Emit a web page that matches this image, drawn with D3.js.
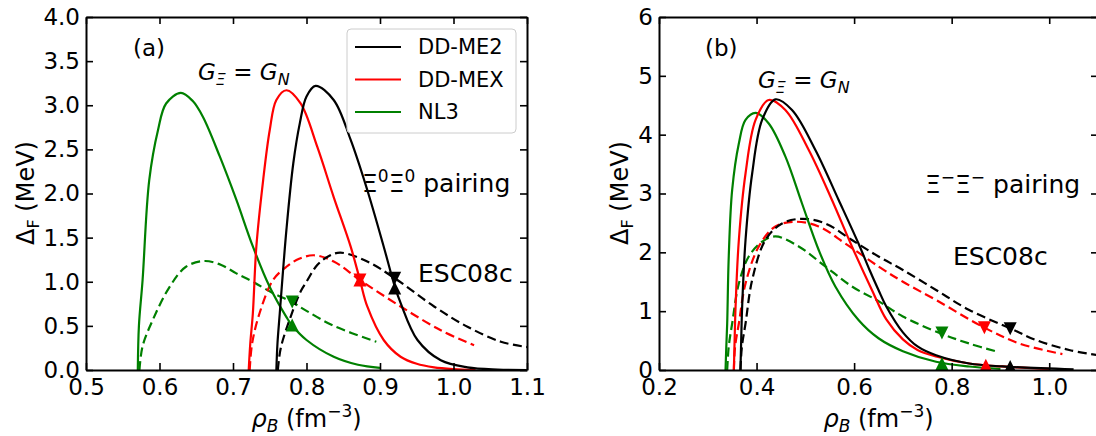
<!DOCTYPE html>
<html>
<head>
<meta charset="utf-8">
<script src="https://cdn.jsdelivr.net/npm/d3@7"></script>
<style>
body { margin: 0; background: #fff; }
svg { display: block; }
text { font-family: "DejaVu Sans", sans-serif; fill: #000; }
</style>
</head>
<body>
<div id="chart"></div>
<script>
// ---- data ----
// panel (a): Xi0 Xi0 pairing
const aME2Solid = [[0.759,0],[0.7605,0.3],[0.7636,0.64],[0.7727,1.59],[0.782,2.34],[0.791,2.8],[0.8,3.1],[0.8123,3.22],[0.837,3.06],[0.86,2.61],[0.8827,2.04],[0.905,1.4],[0.92,0.95],[0.928,0.76],[0.951,0.34],[0.9827,0.11],[1.019,0.03],[1.06,0.005],[1.1,0]];
const aMEXSolid = [[0.7214,0],[0.7235,0.3],[0.727,0.64],[0.7318,1.4],[0.741,2.15],[0.75,2.72],[0.759,3.06],[0.7727,3.17],[0.792,3.02],[0.8146,2.53],[0.837,1.96],[0.86,1.4],[0.8727,1.02],[0.8827,0.72],[0.905,0.34],[0.928,0.15],[0.95,0.07],[0.9736,0.03],[1.0,0.01],[1.03,0]];
const aNL3Solid = [[0.5705,0],[0.572,0.5],[0.577,1.02],[0.586,2.15],[0.598,2.72],[0.609,3.02],[0.629,3.14],[0.645,3.05],[0.659,2.87],[0.682,2.42],[0.7045,1.93],[0.727,1.4],[0.75,0.94],[0.7727,0.6],[0.78,0.51],[0.8,0.34],[0.837,0.15],[0.87,0.06],[0.9,0.025]];
const aME2Dash = [[0.761,0],[0.765,0.25],[0.777,0.57],[0.792,0.89],[0.8,1.0],[0.8146,1.19],[0.83,1.29],[0.846,1.33],[0.8827,1.23],[0.92,1.04],[0.9736,0.72],[1.019,0.49],[1.0645,0.32],[1.1,0.26]];
const aMEXDash = [[0.7227,0],[0.726,0.3],[0.736,0.64],[0.7545,1.02],[0.7727,1.17],[0.79,1.26],[0.81,1.3],[0.837,1.23],[0.8727,1.02],[0.928,0.72],[0.9827,0.45],[1.028,0.28]];
const aNL3Dash = [[0.5727,0],[0.577,0.27],[0.591,0.57],[0.6136,0.94],[0.636,1.17],[0.661,1.235],[0.684,1.19],[0.7045,1.095],[0.727,1.0],[0.7545,0.87],[0.78,0.77],[0.8,0.67],[0.837,0.5],[0.895,0.32]];
// markers: [rho, value] (up = on solid curve, down = on dashed curve)
const aUp = [[0.92,0.93,'black'],[0.8727,1.02,'red'],[0.7805,0.51,'green']];
const aDown = [[0.92,1.04,'black'],[0.8727,1.02,'red'],[0.7805,0.77,'green']];

// panel (b): Xi- Xi- pairing
const bME2Solid = [[0.367,0],[0.3685,0.5],[0.3705,1.08],[0.3774,2.21],[0.391,3.34],[0.4114,4.25],[0.4387,4.6],[0.4727,4.42],[0.5206,3.74],[0.5683,2.89],[0.609,2.15],[0.6317,1.7],[0.65,1.36],[0.666,1.08],[0.7,0.64],[0.73,0.4],[0.768,0.25],[0.836,0.11],[0.904,0.06],[1.05,0.01]];
const bMEXSolid = [[0.3535,0],[0.355,0.5],[0.357,1.08],[0.3637,2.21],[0.3774,3.34],[0.398,4.25],[0.425,4.59],[0.459,4.42],[0.507,3.74],[0.5546,2.89],[0.5955,2.1],[0.6365,1.36],[0.666,0.86],[0.7,0.52],[0.73,0.34],[0.768,0.23],[0.836,0.11],[0.904,0.06],[1.0,0.02]];
const bNL3Solid = [[0.3364,0],[0.338,0.4],[0.3398,0.79],[0.343,1.93],[0.35,3.06],[0.3637,3.85],[0.3774,4.25],[0.398,4.37],[0.425,4.19],[0.459,3.63],[0.4932,2.83],[0.5274,2.04],[0.5615,1.42],[0.609,0.85],[0.65,0.54],[0.7,0.32],[0.768,0.14],[0.836,0.06],[0.9,0.02]];
const bME2Dash = [[0.367,0],[0.37,0.4],[0.3774,0.79],[0.391,1.53],[0.4182,2.21],[0.4523,2.49],[0.4932,2.57],[0.541,2.49],[0.5955,2.21],[0.65,1.93],[0.7,1.7],[0.768,1.36],[0.836,1.02],[0.922,0.7],[0.973,0.51],[1.041,0.34],[1.1,0.25]];
const bMEXDash = [[0.3535,0],[0.356,0.4],[0.3637,0.79],[0.3774,1.47],[0.4046,2.1],[0.4387,2.44],[0.4796,2.52],[0.5274,2.44],[0.582,2.15],[0.65,1.76],[0.7,1.5],[0.768,1.19],[0.867,0.72],[0.939,0.45],[1.027,0.27]];
const bNL3Dash = [[0.3398,0],[0.343,0.4],[0.35,0.79],[0.3637,1.47],[0.384,1.93],[0.4114,2.18],[0.4387,2.27],[0.4864,2.1],[0.541,1.76],[0.5955,1.42],[0.65,1.17],[0.7,0.91],[0.778,0.62],[0.836,0.45],[0.894,0.31]];
const bUp = [[0.92,0.06,'black'],[0.87,0.08,'red'],[0.78,0.11,'green']];
const bDown = [[0.92,0.7,'black'],[0.867,0.72,'red'],[0.78,0.63,'green']];

// ticks
const aXTicks = [0.5,0.6,0.7,0.8,0.9,1.0,1.1];
const aYTicks = [0,0.5,1,1.5,2,2.5,3,3.5,4];
const bXTicks = [0.2,0.4,0.6,0.8,1.0];
const bYTicks = [0,1,2,3,4,5,6];

const legendNames = ['DD-ME2','DD-MEX','NL3'];
const colors = {black:'#000000', red:'#ff0000', green:'#008000'};

const svg = d3.select('#chart')
  .append('svg')
  .attr('width', 1096)
  .attr('height', 436);

function panel(opt) {
  const x = d3.scaleLinear().domain(opt.xdom).range([opt.left, opt.right]);
  const y = d3.scaleLinear().domain(opt.ydom).range([370, 17]);
  const g = svg.append('g');

  g.append('clipPath').attr('id', opt.id)
    .append('rect')
    .attr('x', opt.left).attr('y', 17)
    .attr('width', opt.right - opt.left).attr('height', 353);

  const plot = g.append('g').attr('clip-path', 'url(#' + opt.id + ')');
  const line = d3.line()
    .x(function(d){ return x(d[0]); })
    .y(function(d){ return y(d[1]); })
    .curve(d3.curveCatmullRom.alpha(0.5));

  opt.curves.forEach(function(c){
    plot.append('path')
      .attr('d', line(c.data))
      .attr('fill', 'none')
      .attr('stroke', colors[c.color])
      .attr('stroke-width', 2.2)
      .attr('stroke-dasharray', c.dash ? '9,4.5' : null);
  });

  const tri = 6.5;
  opt.up.forEach(function(m){
    const cx = x(m[0]), cy = y(m[1]);
    plot.append('path')
      .attr('d', 'M' + cx + ',' + (cy - tri) + 'L' + (cx + tri) + ',' + (cy + tri) + 'L' + (cx - tri) + ',' + (cy + tri) + 'Z')
      .attr('fill', colors[m[2]]);
  });
  opt.down.forEach(function(m){
    const cx = x(m[0]), cy = y(m[1]);
    plot.append('path')
      .attr('d', 'M' + cx + ',' + (cy + tri) + 'L' + (cx + tri) + ',' + (cy - tri) + 'L' + (cx - tri) + ',' + (cy - tri) + 'Z')
      .attr('fill', colors[m[2]]);
  });

  // axes, ticks pointing in
  const fx = opt.xfmt, fy = opt.yfmt;
  const xAxisG = g.append('g').attr('transform', 'translate(0,370)')
    .call(d3.axisBottom(x).tickValues(opt.xticks).tickFormat(fx).tickSize(-7).tickSizeOuter(0).tickPadding(9));
  const yAxisG = g.append('g').attr('transform', 'translate(' + opt.left + ',0)')
    .call(d3.axisLeft(y).tickValues(opt.yticks).tickFormat(fy).tickSize(-7).tickSizeOuter(0).tickPadding(6));
  const topG = g.append('g').attr('transform', 'translate(0,17)')
    .call(d3.axisTop(x).tickValues(opt.xticks).tickFormat('').tickSize(-7).tickSizeOuter(0));
  const rightG = g.append('g').attr('transform', 'translate(' + opt.right + ',0)')
    .call(d3.axisRight(y).tickValues(opt.yticks).tickFormat('').tickSize(-7).tickSizeOuter(0));

  [xAxisG, yAxisG, topG, rightG].forEach(function(a){
    a.select('.domain').attr('stroke', '#000').attr('stroke-width', 2);
    a.selectAll('.tick line').attr('stroke', '#000').attr('stroke-width', 1.6);
    a.selectAll('.tick text').attr('font-size', 23).attr('font-family', '"DejaVu Sans", sans-serif').attr('fill', '#000');
  });

  // axis titles
  const cx = (opt.left + opt.right) / 2;
  const xl = g.append('text').attr('x', cx).attr('y', 427)
    .attr('text-anchor', 'middle').attr('font-size', 24);
  xl.append('tspan').attr('font-style', 'italic').text('ρ');
  xl.append('tspan').attr('font-style', 'italic').attr('font-size', 17).attr('dy', 5).text('B');
  xl.append('tspan').attr('dy', -5).text(' (fm');
  xl.append('tspan').attr('font-size', 17).attr('dy', -10).text('−3');
  xl.append('tspan').attr('dy', 10).text(')');

  const yl = g.append('text')
    .attr('transform', 'translate(' + opt.ylabx + ',193) rotate(-90)')
    .attr('text-anchor', 'middle').attr('font-size', 24);
  yl.append('tspan').text('Δ');
  yl.append('tspan').attr('font-size', 16).attr('dy', 5).text('F');
  yl.append('tspan').attr('dy', -5).text(' (MeV)');

  return g;
}

const ga = panel({
  id: 'clipA', left: 86, right: 527,
  xdom: [0.5, 1.1], ydom: [0, 4],
  xticks: aXTicks, yticks: aYTicks,
  xfmt: d3.format('.1f'), yfmt: d3.format('.1f'),
  ylabx: 34,
  curves: [
    {data: aNL3Dash, color: 'green', dash: true},
    {data: aMEXDash, color: 'red', dash: true},
    {data: aME2Dash, color: 'black', dash: true},
    {data: aNL3Solid, color: 'green'},
    {data: aMEXSolid, color: 'red'},
    {data: aME2Solid, color: 'black'}
  ],
  up: aUp, down: aDown
});

const gb = panel({
  id: 'clipB', left: 659, right: 1098,
  xdom: [0.2, 1.1], ydom: [0, 6],
  xticks: bXTicks, yticks: bYTicks,
  xfmt: d3.format('.1f'), yfmt: d3.format('d'),
  ylabx: 628,
  curves: [
    {data: bNL3Dash, color: 'green', dash: true},
    {data: bMEXDash, color: 'red', dash: true},
    {data: bME2Dash, color: 'black', dash: true},
    {data: bNL3Solid, color: 'green'},
    {data: bMEXSolid, color: 'red'},
    {data: bME2Solid, color: 'black'}
  ],
  up: bUp, down: bDown
});

// annotations
function gLabel(g, x0, y0) {
  const t = g.append('text').attr('x', x0).attr('y', y0).attr('font-size', 23);
  t.append('tspan').attr('font-style', 'italic').text('G');
  t.append('tspan').attr('font-style', 'italic').attr('font-size', 16).attr('dy', 5).text('Ξ');
  t.append('tspan').attr('dy', -5).text(' = ');
  t.append('tspan').attr('font-style', 'italic').text('G');
  t.append('tspan').attr('font-style', 'italic').attr('font-size', 16).attr('dy', 5).text('N');
}
function pairLabel(g, x0, y0, sup) {
  const t = g.append('text').attr('x', x0).attr('y', y0).attr('font-size', 25);
  t.append('tspan').text('Ξ');
  t.append('tspan').attr('font-size', 17).attr('dy', -10).text(sup);
  t.append('tspan').attr('dy', 10).text('Ξ');
  t.append('tspan').attr('font-size', 17).attr('dy', -10).text(sup);
  t.append('tspan').attr('dy', 10).text(' pairing');
}

ga.append('text').attr('x', 133).attr('y', 56).attr('font-size', 23).text('(a)');
gb.append('text').attr('x', 705).attr('y', 56).attr('font-size', 23).text('(b)');
gLabel(ga, 198, 80);
gLabel(gb, 758, 88);
pairLabel(ga, 362, 192, '0');
pairLabel(gb, 925, 193, '−');
ga.append('text').attr('x', 418).attr('y', 282).attr('font-size', 25).text('ESC08c');
gb.append('text').attr('x', 953).attr('y', 265).attr('font-size', 25).text('ESC08c');

// legend (panel a)
const leg = ga.append('g');
leg.append('rect')
  .attr('x', 347).attr('y', 29).attr('width', 169).attr('height', 104)
  .attr('rx', 4).attr('fill', '#fff').attr('fill-opacity', 0.8)
  .attr('stroke', '#cccccc').attr('stroke-width', 1);
legendNames.forEach(function(n, i){
  const yy = 47 + i * 32.5;
  const c = ['black','red','green'][i];
  leg.append('line').attr('x1', 355).attr('x2', 401).attr('y1', yy).attr('y2', yy)
    .attr('stroke', colors[c]).attr('stroke-width', 2);
  leg.append('text').attr('x', 418).attr('y', yy).attr('dy', '0.35em')
    .attr('font-size', 21).text(n);
});
</script>
</body>
</html>
